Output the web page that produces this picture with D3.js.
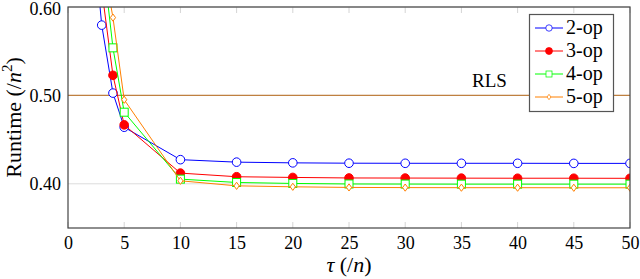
<!DOCTYPE html>
<html>
<head>
<meta charset="utf-8">
<script src="https://cdn.jsdelivr.net/npm/d3@7"></script>
<style>
  html, body { margin: 0; padding: 0; background: #fff; }
  svg text { font-family: "Liberation Serif", "DejaVu Serif", serif; fill: #000; }
</style>
</head>
<body>
<svg id="chart" width="640" height="279"></svg>
<script>
// tau values (x axis, units of n)
const taus = [2, 3, 4, 5, 10, 15, 20, 25, 30, 35, 40, 45, 50]

// runtime / n^2 per series (null = not measured)
const op2 = [0.717, 0.5795, 0.5026, 0.464, 0.4273, 0.4245, 0.4237, 0.4233, 0.4232, 0.4232, 0.4232, 0.4231, 0.4231]
const op3 = [null, 0.62, 0.5227, 0.4667, 0.4121, 0.408, 0.4072, 0.4066, 0.4065, 0.4064, 0.4063, 0.4063, 0.4062]
const op4 = [null, 0.665, 0.5538, 0.481, 0.4053, 0.4015, 0.4004, 0.3998, 0.3997, 0.3996, 0.3996, 0.3996, 0.3996]
const op5 = [null, 0.66, 0.588, 0.4951, 0.4034, 0.3977, 0.3966, 0.3959, 0.3957, 0.3956, 0.3956, 0.3955, 0.3955]

const rlsValue = 0.5

const xTicks = [0, 5, 10, 15, 20, 25, 30, 35, 40, 45, 50]
const yTicks = [0.4, 0.5, 0.6]

const seriesNames = ["2-op", "3-op", "4-op", "5-op"]
const seriesColors = ["#0000ff", "#ff0000", "#00ff00", "#ff8000"]
const seriesMarks = ["circle", "dot", "square", "diamond"]

const margin = { left: 68, right: 10, top: 7, bottom: 51 }
const W = 640, H = 279
const FS = 18

const svg = d3.select("#chart")
const x = d3.scaleLinear().domain([0, 50]).range([margin.left, W - margin.right])
const y = d3.scaleLinear().domain([0.35, 0.6]).range([H - margin.bottom, margin.top])

svg.append("defs").append("clipPath").attr("id", "clip")
  .append("rect")
  .attr("x", x(0)).attr("y", y(0.6))
  .attr("width", x(50) - x(0)).attr("height", y(0.35) - y(0.6))

// grid lines
svg.append("g").selectAll("line").data(yTicks).join("line")
  .attr("x1", x(0)).attr("x2", x(50))
  .attr("y1", (d) => y(d)).attr("y2", (d) => y(d))
  .attr("stroke", "#dcdcdc").attr("stroke-width", 1)

// inner ticks (light gray, top and bottom)
const tickG = svg.append("g").attr("stroke", "#d4d4d4").attr("stroke-width", 1)
tickG.selectAll(".tt").data(xTicks).join("line")
  .attr("x1", (d) => x(d)).attr("x2", (d) => x(d))
  .attr("y1", y(0.6)).attr("y2", y(0.6) + 6)
tickG.selectAll(".tb").data(xTicks).join("line")
  .attr("x1", (d) => x(d)).attr("x2", (d) => x(d))
  .attr("y1", y(0.35)).attr("y2", y(0.35) - 6)

// RLS reference line
svg.append("line")
  .attr("x1", x(0)).attr("x2", x(50))
  .attr("y1", y(rlsValue)).attr("y2", y(rlsValue))
  .attr("stroke", "#bf8040").attr("stroke-width", 1.2)
svg.append("text")
  .attr("x", x(37.5)).attr("y", y(rlsValue) - 8)
  .attr("text-anchor", "middle").attr("font-size", 19)
  .text("RLS")

// axes via d3 with custom styling
const xAxis = svg.append("g")
  .attr("transform", `translate(0,${y(0.35)})`)
  .call(d3.axisBottom(x).tickValues(xTicks).tickFormat(d3.format("d")).tickSize(0).tickPadding(8))
xAxis.select(".domain").remove()
xAxis.selectAll("text").attr("font-size", FS)

const yAxis = svg.append("g")
  .attr("transform", `translate(${x(0)},0)`)
  .call(d3.axisLeft(y).tickValues(yTicks).tickFormat(d3.format(".2f")).tickSize(0).tickPadding(7))
yAxis.select(".domain").remove()
yAxis.selectAll("text").attr("font-size", FS)
yAxis.selectAll(".tick").filter((d) => d === 0.6).select("text").attr("dy", "0.42em")

// series
const allSeries = [op2, op3, op4, op5]
const plot = svg.append("g").attr("clip-path", "url(#clip)")
const line = d3.line()
  .defined((d) => d[1] != null)
  .x((d) => x(d[0])).y((d) => y(d[1]))

function drawMark(g, kind, color, cx, cy) {
  if (kind === "circle") {
    g.append("circle").attr("cx", cx).attr("cy", cy).attr("r", 4.3)
      .attr("fill", "#fff").attr("stroke", color).attr("stroke-width", 1)
  } else if (kind === "dot") {
    g.append("circle").attr("cx", cx).attr("cy", cy).attr("r", 4.3)
      .attr("fill", color).attr("stroke", color).attr("stroke-width", 1)
  } else if (kind === "square") {
    g.append("rect").attr("x", cx - 4).attr("y", cy - 4).attr("width", 8).attr("height", 8)
      .attr("fill", "#fff").attr("stroke", color).attr("stroke-width", 1)
  } else {
    g.append("path")
      .attr("d", `M${cx},${cy - 3.6}L${cx + 2.6},${cy}L${cx},${cy + 3.6}L${cx - 2.6},${cy}Z`)
      .attr("fill", "#fff").attr("stroke", color).attr("stroke-width", 1)
  }
}

allSeries.forEach((vals, i) => {
  const pts = taus.map((t, j) => [t, vals[j]])
  plot.append("path").datum(pts)
    .attr("d", line)
    .attr("fill", "none").attr("stroke", seriesColors[i]).attr("stroke-width", 1)
  const mg = plot.append("g")
  pts.filter((p) => p[1] != null).forEach((p) => drawMark(mg, seriesMarks[i], seriesColors[i], x(p[0]), y(p[1])))
})

// axis box
svg.append("rect")
  .attr("x", x(0)).attr("y", y(0.6))
  .attr("width", x(50) - x(0)).attr("height", y(0.35) - y(0.6))
  .attr("fill", "none").attr("stroke", "#444").attr("stroke-width", 1.2)

// legend
const lg = svg.append("g")
lg.append("rect").attr("x", 529.5).attr("y", 14.5).attr("width", 84).attr("height", 97)
  .attr("fill", "#fff").attr("stroke", "#555").attr("stroke-width", 1.2)
seriesNames.forEach((name, i) => {
  const cy = 28 + i * 23
  lg.append("line").attr("x1", 535).attr("x2", 563).attr("y1", cy).attr("y2", cy)
    .attr("stroke", seriesColors[i]).attr("stroke-width", 1)
  const s = seriesMarks[i] === "dot" ? 0.8 : 0.75
  const mg = lg.append("g").attr("transform", `translate(549,${cy}) scale(${s}) translate(-549,${-cy})`)
  drawMark(mg, seriesMarks[i], seriesColors[i], 549, cy)
  lg.append("text").attr("x", 566).attr("y", cy + 6).attr("font-size", 20).text(name)
})

// axis labels
svg.append("text")
  .attr("x", (x(0) + x(50)) / 2).attr("y", 272)
  .attr("text-anchor", "middle").attr("font-size", 22)
  .html('<tspan font-style="italic">τ</tspan> (/<tspan font-style="italic">n</tspan>)')

svg.append("text")
  .attr("transform", `translate(21,${(y(0.35) + y(0.6)) / 2}) rotate(-90)`)
  .attr("text-anchor", "middle").attr("font-size", 22)
  .html('Runtime (/<tspan font-style="italic">n</tspan><tspan font-size="15" dy="-9">2</tspan><tspan dy="9">)</tspan>')
</script>
</body>
</html>
